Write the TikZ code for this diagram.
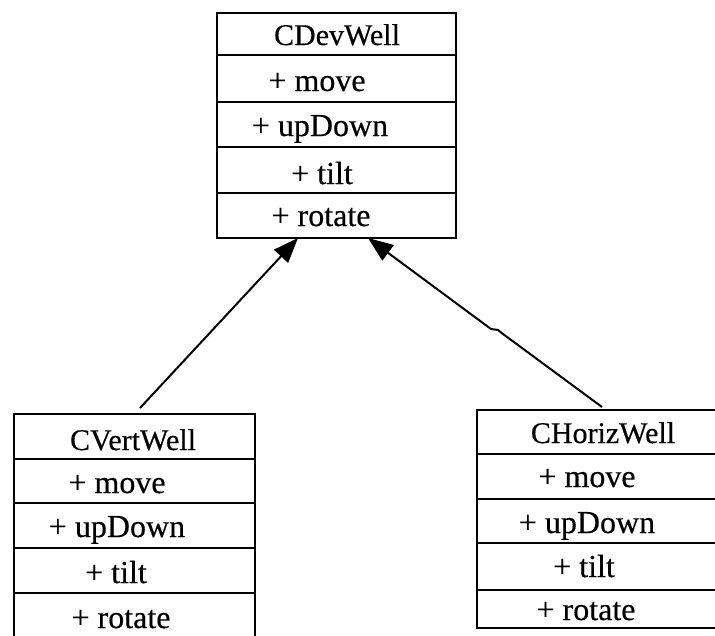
\documentclass[tikz,border=0pt]{standalone}
\usepackage{fontspec}
\setmainfont{Liberation Serif}[FakeBold=0.4]
\usetikzlibrary{arrows.meta}
\tikzset{
  box/.style={draw, line width=2.2pt, inner sep=0pt, anchor=north west},
  divider/.style={line width=2pt},
  ttl/.style={anchor=base, inner sep=0pt, font=\fontsize{30}{36}\selectfont},
  ent/.style={anchor=base, inner sep=0pt, font=\fontsize{32}{38}\selectfont},
  inherit/.style={line width=2pt, -{Triangle[length=25pt,width=19pt]}}
}
\begin{document}
\begin{tikzpicture}[x=1pt,y=-1pt]
\useasboundingbox (0,0) rectangle (715,635);
\clip (0,0) rectangle (715,635);
% CDevWell
\node[box, minimum width=239pt, minimum height=225pt] (dev) at (216,12) {};
\foreach \yy in {55,102,147,193} \draw[divider] (216,\yy) -- (455,\yy);
\node[ttl] (d0) at (337,45) {CDevWell};
\node[ent] (d1) at (317,91) {+ move};
\node[ent] (d2) at (320,136) {+ upDown};
\node[ent] (d3) at (322,184) {+ tilt};
\node[ent] (d4) at (321,226) {+ rotate};
% CVertWell
\node[box, minimum width=241pt, minimum height=235pt] (vert) at (13,413) {};
\foreach \yy in {459,503,548,593} \draw[divider] (13,\yy) -- (254,\yy);
\node[ttl] (v0) at (133,450) {CVertWell};
\node[ent] (v1) at (117,493) {+ move};
\node[ent] (v2) at (117,537) {+ upDown};
\node[ent] (v3) at (116,583) {+ tilt};
\node[ent] (v4) at (121,628) {+ rotate};
% CHorizWell
\node[box, minimum width=254pt, minimum height=218pt] (horiz) at (476,409) {};
\foreach \yy in {454,499,543,590} \draw[divider] (476,\yy) -- (730,\yy);
\node[ttl] (h0) at (603,443) {CHorizWell};
\node[ent] (h1) at (587,487) {+ move};
\node[ent] (h2) at (587,533) {+ upDown};
\node[ent] (h3) at (584,577) {+ tilt};
\node[ent] (h4) at (586,620) {+ rotate};
% connectors
\coordinate (vtop) at (140,408);
\coordinate (htop) at (602,407);
\coordinate (tipL) at (298,238);
\coordinate (tipR) at (368,238);
\coordinate (k1) at (503,334);
\coordinate (k2) at (498,330);
\coordinate (k3) at (491,329);
\draw[inherit] (vtop) -- (tipL);
\draw[inherit] (htop) -- (k1) -- (k2) -- (k3) -- (tipR);
\end{tikzpicture}
\end{document}
